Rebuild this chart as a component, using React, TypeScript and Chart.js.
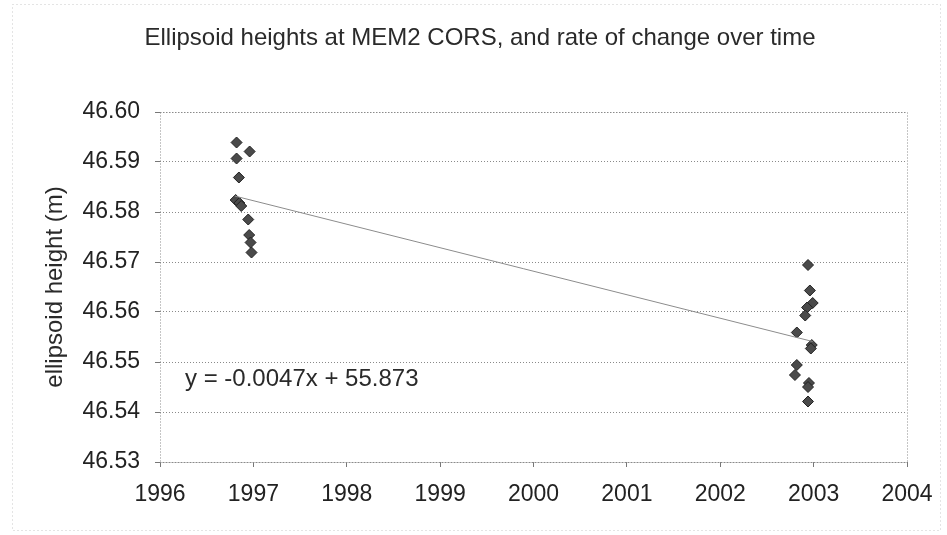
import React, { useEffect, useRef } from "react";
import { Chart, registerables } from "chart.js";

Chart.register(...registerables);

const chartTitle = "Ellipsoid heights at MEM2 CORS, and rate of change over time";
const yAxisTitle = "ellipsoid height (m)";
const equationText = "y = -0.0047x + 55.873";

const earlyYears = [1996.82, 1996.96, 1996.82, 1996.845, 1996.81, 1996.85, 1996.87, 1996.945, 1996.955, 1996.97, 1996.98];
const earlyHeights = [46.5939, 46.5921, 46.5907, 46.5869, 46.5824, 46.5818, 46.5812, 46.5785, 46.5754, 46.5739, 46.5719];

const lateYears = [2002.94, 2002.96, 2002.99, 2002.93, 2002.91, 2002.82, 2002.98, 2002.97, 2002.82, 2002.8, 2002.95, 2002.94, 2002.94];
const lateHeights = [46.5694, 46.5643, 46.5618, 46.5609, 46.5593, 46.5559, 46.5534, 46.5527, 46.5494, 46.5474, 46.5458, 46.545, 46.5421];

const trendYears = [1996.8, 2002.99];
const trendHeights = [46.5832, 46.5541];

const xMin = 1996;
const xMax = 2004;
const yMin = 46.53;
const yMax = 46.6;

const FONT = "'Liberation Sans', Arial, sans-serif";

export default function App() {
  const ref = useRef<HTMLCanvasElement | null>(null);

  useEffect(() => {
    const canvas = ref.current;
    if (!canvas) return;

    const points = [
      ...earlyYears.map((x, i) => ({ x, y: earlyHeights[i] })),
      ...lateYears.map((x, i) => ({ x, y: lateHeights[i] })),
    ];
    const trend = trendYears.map((x, i) => ({ x, y: trendHeights[i] }));

    const decor = {
      id: "decor",
      beforeDatasetsDraw(chart: any) {
        const { ctx, chartArea } = chart;
        ctx.save();
        ctx.strokeStyle = "#8a8a8a";
        ctx.lineWidth = 1;
        ctx.setLineDash([1, 2]);
        ctx.strokeRect(
          Math.round(chartArea.left) + 0.5,
          Math.round(chartArea.top) + 0.5,
          Math.round(chartArea.right - chartArea.left),
          Math.round(chartArea.bottom - chartArea.top)
        );
        ctx.strokeStyle = "#c8c8c8";
        ctx.setLineDash([1, 3]);
        ctx.strokeRect(12.5, 4.5, 928, 526);
        ctx.restore();
      },
      afterDraw(chart: any) {
        const { ctx, chartArea } = chart;
        ctx.save();
        ctx.fillStyle = "#2a2a2a";
        ctx.textBaseline = "middle";
        ctx.font = `24px ${FONT}`;
        ctx.textAlign = "center";
        ctx.fillText(chartTitle, 480, 38);
        ctx.font = `24px ${FONT}`;
        ctx.textAlign = "left";
        ctx.fillText(equationText, chartArea.left + 25, 379);
        ctx.translate(55, (chartArea.top + chartArea.bottom) / 2);
        ctx.rotate(-Math.PI / 2);
        ctx.font = `24px ${FONT}`;
        ctx.textAlign = "center";
        ctx.fillText(yAxisTitle, 0, 0);
        ctx.restore();
      },
    };

    const chart = new Chart(canvas, {
      type: "scatter",
      data: {
        datasets: [
          {
            type: "line",
            label: "trend",
            data: trend,
            borderColor: "#8c8c8c",
            borderWidth: 1,
            pointRadius: 0,
            showLine: true,
            fill: false,
          } as any,
          {
            label: "heights",
            data: points,
            pointStyle: "rectRot",
            pointRadius: 5.5,
            backgroundColor: "#4a4a4a",
            borderColor: "#222222",
            borderWidth: 1,
          },
        ],
      },
      options: {
        responsive: false,
        animation: false,
        layout: { padding: { top: 112, left: 0, right: 40, bottom: 0 } },
        plugins: {
          legend: { display: false },
          title: { display: false },
          tooltip: { enabled: false },
        },
        scales: {
          x: {
            type: "linear",
            min: xMin,
            max: xMax,
            afterFit: (s: any) => {
              s.height = 73;
            },
            ticks: {
              stepSize: 1,
              color: "#222",
              font: { family: FONT, size: 23 },
              padding: 14,
              maxRotation: 0,
              callback: (v: any) => String(v),
            },
            grid: {
              drawOnChartArea: false,
              drawTicks: true,
              tickLength: 5,
              color: "#777",
            },
            border: { display: false },
          },
          y: {
            type: "linear",
            min: yMin,
            max: yMax,
            afterFit: (s: any) => {
              s.width = 160;
            },
            ticks: {
              stepSize: 0.01,
              color: "#222",
              font: { family: FONT, size: 23 },
              padding: 15,
              callback: (v: any) => Number(v).toFixed(2),
            },
            grid: {
              color: "#8a8a8a",
              lineWidth: 1,
              tickLength: 5,
              tickColor: "#777",
            },
            border: { display: false, dash: [1, 2] },
          },
        },
      },
      plugins: [decor],
    });

    return () => chart.destroy();
  }, []);

  return (
    <div style={{ position: "fixed", left: 0, top: 0, width: 947, height: 535, background: "#fff" }}>
      <canvas ref={ref} width={947} height={535} style={{ display: "block" }} />
    </div>
  );
}
